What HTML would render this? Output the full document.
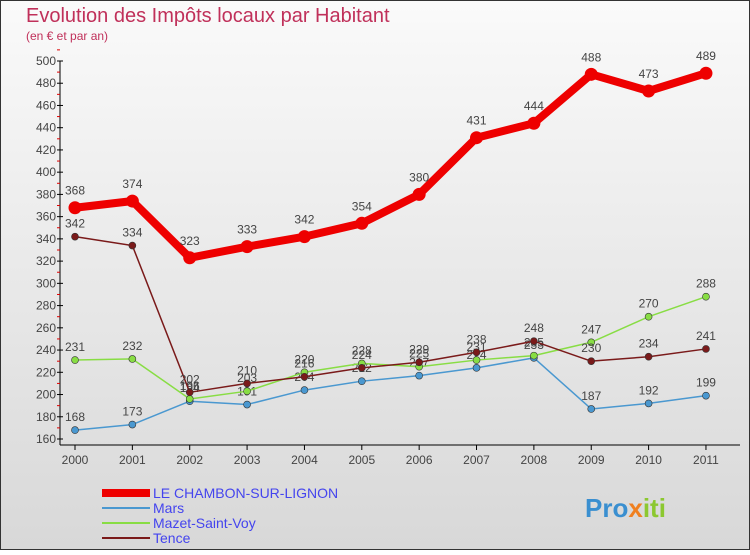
<!DOCTYPE html>
<html><head><meta charset="utf-8"><style>
body{margin:0;width:750px;height:550px;overflow:hidden;font-family:"Liberation Sans",sans-serif}
</style></head><body>
<svg width="750" height="550" xmlns="http://www.w3.org/2000/svg">
<defs><linearGradient id="bg" x1="0" y1="0" x2="0" y2="1"><stop offset="0" stop-color="#fafafa"/><stop offset="1" stop-color="#d8d8d8"/></linearGradient></defs>
<rect x="0.5" y="0.5" width="749" height="549" fill="url(#bg)" stroke="#333"/>
<text x="26" y="22" font-size="20" fill="#c0305a">Evolution des Impôts locaux par Habitant</text>
<text x="26" y="40" font-size="12" fill="#c0305a">(en € et par an)</text>
<g id="axes"></g><g id="series"></g><g id="legend"></g>
<text x="585" y="517" font-size="26" font-weight="bold" fill="#3a8fd0">Pro<tspan fill="#f08020">x</tspan><tspan fill="#8cc830">iti</tspan></text>
</svg>
<script>
const years=[2000,2001,2002,2003,2004,2005,2006,2007,2008,2009,2010,2011];
const chambon=[368,374,323,333,342,354,380,431,444,488,473,489];
const mars=[168,173,194,191,204,212,217,224,233,187,192,199];
const mazet=[231,232,196,203,220,228,225,231,235,247,270,288];
const tence=[342,334,202,210,216,224,229,238,248,230,234,241];
const yTicks=[160,180,200,220,240,260,280,300,320,340,360,380,400,420,440,460,480,500];
const seriesNames=["LE CHAMBON-SUR-LIGNON","Mars","Mazet-Saint-Voy","Tence"];
const NS="http://www.w3.org/2000/svg";
const xS=i=>75+i*57.36, yS=v=>439-(v-160)*1.1118;
function mk(t,a,p){const e=document.createElementNS(NS,t);for(const k in a)e.setAttribute(k,a[k]);p.appendChild(e);return e;}
const ax=document.getElementById('axes');
const yl=mk('line',{x1:60,y1:yS(500),x2:60,y2:445,stroke:'#000'},ax);


const xl=mk('line',{x1:60,y1:445,x2:740,y2:445,stroke:'#000'},ax);


yTicks.forEach(v=>{mk('line',{x1:57,y1:yS(v),x2:63,y2:yS(v),stroke:'#000'},ax);
mk('line',{x1:57,y1:yS(v+10),x2:60,y2:yS(v+10),stroke:'#d00'},ax);
const t=mk('text',{x:56,y:yS(v)+4,'font-size':12,fill:'#444','text-anchor':'end'},ax);t.textContent=v;

});
years.forEach((y,i)=>{mk('line',{x1:xS(i),y1:445,x2:xS(i),y2:450,stroke:'#000'},ax);
const t=mk('text',{x:xS(i),y:464,'font-size':12,fill:'#444','text-anchor':'middle'},ax);t.textContent=y;

});
const sg=document.getElementById('series');
function draw(data,color,w,r,name,off){
const g=mk('g',{},sg);


mk('polyline',{points:data.map((v,i)=>xS(i)+','+yS(v)).join(' '),fill:'none',stroke:color,'stroke-width':w,'stroke-linejoin':'round'},g);
data.forEach((v,i)=>{const c=mk('circle',{cx:xS(i),cy:yS(v),r:r,fill:color,stroke:'#333','stroke-width':r>4?0:0.6},g);


const t=mk('text',{x:xS(i),y:yS(v)-off,'font-size':12,fill:'#444','text-anchor':'middle'},g);t.textContent=v;

});}
draw(mars,'#4a98d0',1.5,3.5,'mars',9);
draw(mazet,'#88dd44',1.5,3.5,'mazet',9);
draw(tence,'#7a1a1a',1.5,3.5,'tence',9);
draw(chambon,'#ee0000',8,6.5,'chambon',13);
const lg=document.getElementById('legend');
const cols=['#ee0000','#4a98d0','#88dd44','#7a1a1a'],ws=[8,2,2,2];
seriesNames.forEach((n,i)=>{const y=493+i*15;
const e=mk('g',{},lg);


mk('line',{x1:102,y1:y,x2:150,y2:y,stroke:cols[i],'stroke-width':ws[i]},e);
const t=mk('text',{x:153,y:y+5,'font-size':14,fill:'#4444ee'},e);t.textContent=n;});
</script>
</body></html>
